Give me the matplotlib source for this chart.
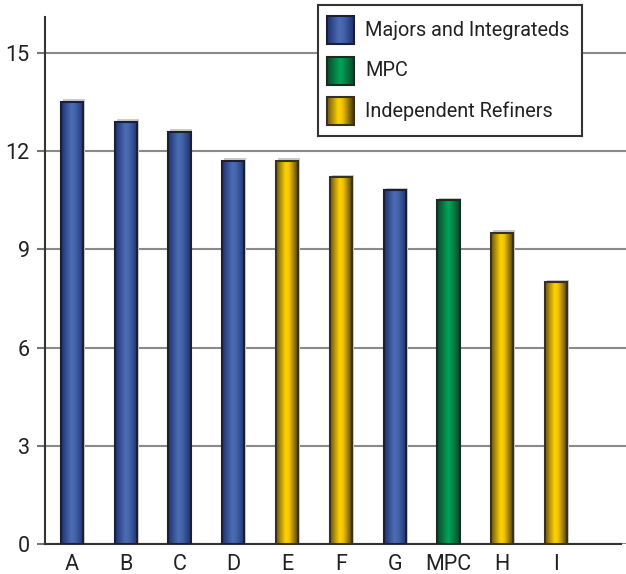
import numpy as np
import matplotlib
matplotlib.use("Agg")
import matplotlib.pyplot as plt
from matplotlib.colors import LinearSegmentedColormap
from matplotlib.patches import Rectangle

plt.rcParams['font.family'] = ['Roboto', 'DejaVu Sans']

#--------------------------------- data ---------------------------------
companies = ['A', 'B', 'C', 'D', 'E', 'F', 'G', 'MPC', 'H', 'I']
values = [13.5, 12.9, 12.6, 11.7, 11.7, 11.2, 10.8, 10.5, 9.5, 8.0]
groups = ['maj', 'maj', 'maj', 'maj', 'ind', 'ind', 'maj', 'mpc', 'ind', 'ind']
group_names = {'maj': 'Majors and Integrateds', 'mpc': 'MPC', 'ind': 'Independent Refiners'}
yticks = [0, 3, 6, 9, 12, 15]

#--------------------------------- colours ------------------------------
cmaps = {
    'maj': LinearSegmentedColormap.from_list('b', [(0, '#1f3270'), (0.45, '#4b6db5'), (0.6, '#4566ad'), (1, '#1f3270')]),
    'mpc': LinearSegmentedColormap.from_list('g', [(0, '#0b4a2a'), (0.5, '#00a659'), (1, '#0b4a2a')]),
    'ind': LinearSegmentedColormap.from_list('y', [(0, '#6e5512'), (0.42, '#ffd400'), (0.58, '#f2c200'), (1, '#45360e')]),
}
edges = {'maj': '#1c1f33', 'mpc': '#1c2a22', 'ind': '#3a3020'}
grad = np.linspace(0, 1, 64).reshape(1, -1)

def gradient_box(ax, x0, y0, w, h, key, lw=1.5):
    rect = Rectangle((x0, y0), w, h, facecolor='none', edgecolor=edges[key], lw=lw, zorder=4)
    ax.add_patch(rect)
    im = ax.imshow(grad, cmap=cmaps[key], extent=[x0, x0 + w, y0, y0 + h], aspect='auto', zorder=3,
                   interpolation='bicubic')
    im.set_clip_path(rect)

#--------------------------------- figure -------------------------------
fig = plt.figure(figsize=(6.26, 5.74), dpi=100)
ax = fig.add_axes([45 / 626, 30 / 574, 581 / 626, 527 / 574])

xs = np.arange(len(companies))
bw = 0.41
for x, v, g in zip(xs, values, groups):
    # light shadow behind
    ax.add_patch(Rectangle((x - bw / 2 + 0.035, 0), bw, v + 0.08, facecolor='#cccccc', edgecolor='none', zorder=2))
    gradient_box(ax, x - bw / 2, 0, bw, v, g)

ax.set_xlim(-0.5, 10.3)
ax.set_ylim(0, 16.1)
ax.set_yticks(yticks)
ax.set_xticks(xs)
ax.set_xticklabels(companies)
ax.yaxis.grid(True, color='#8a8a8a', lw=1.5, zorder=1)
ax.set_axisbelow(True)
for s in ['top', 'right']:
    ax.spines[s].set_visible(False)
ax.spines['left'].set_color('#333333')
ax.spines['left'].set_linewidth(1.5)
ax.spines['bottom'].set_color('#333333')
ax.spines['bottom'].set_linewidth(1.5)
ax.spines['bottom'].set_bounds(-0.5, 10.2)
ax.tick_params(axis='y', length=6, width=1.5, color='#777777', labelsize=15.5, pad=5, labelcolor='#222222')
ax.tick_params(axis='x', length=0, labelsize=15.5, pad=7, labelcolor='#222222')

#--------------------------------- legend -------------------------------
lg = fig.add_axes([318 / 626, (574 - 136) / 574, 264 / 626, 131 / 574])
lg.set_xlim(0, 264)
lg.set_ylim(131, 0)
lg.set_xticks([])
lg.set_yticks([])
for s in lg.spines.values():
    s.set_color('#333333')
    s.set_linewidth(1.5)
for i, key in enumerate(['maj', 'mpc', 'ind']):
    yc = 25 + 40.5 * i
    rect = Rectangle((9, yc - 14), 27, 28, facecolor='none', edgecolor=edges[key], lw=1.5, zorder=4)
    lg.add_patch(rect)
    im = lg.imshow(grad, cmap=cmaps[key], extent=[9, 36, yc + 14, yc - 14], aspect='auto', zorder=3,
                   interpolation='bicubic')
    im.set_clip_path(rect)
    lg.text(47, yc, group_names[key], fontsize=14.3, va='center', ha='left', color='#222222')

fig.savefig('out.png', dpi=100)
